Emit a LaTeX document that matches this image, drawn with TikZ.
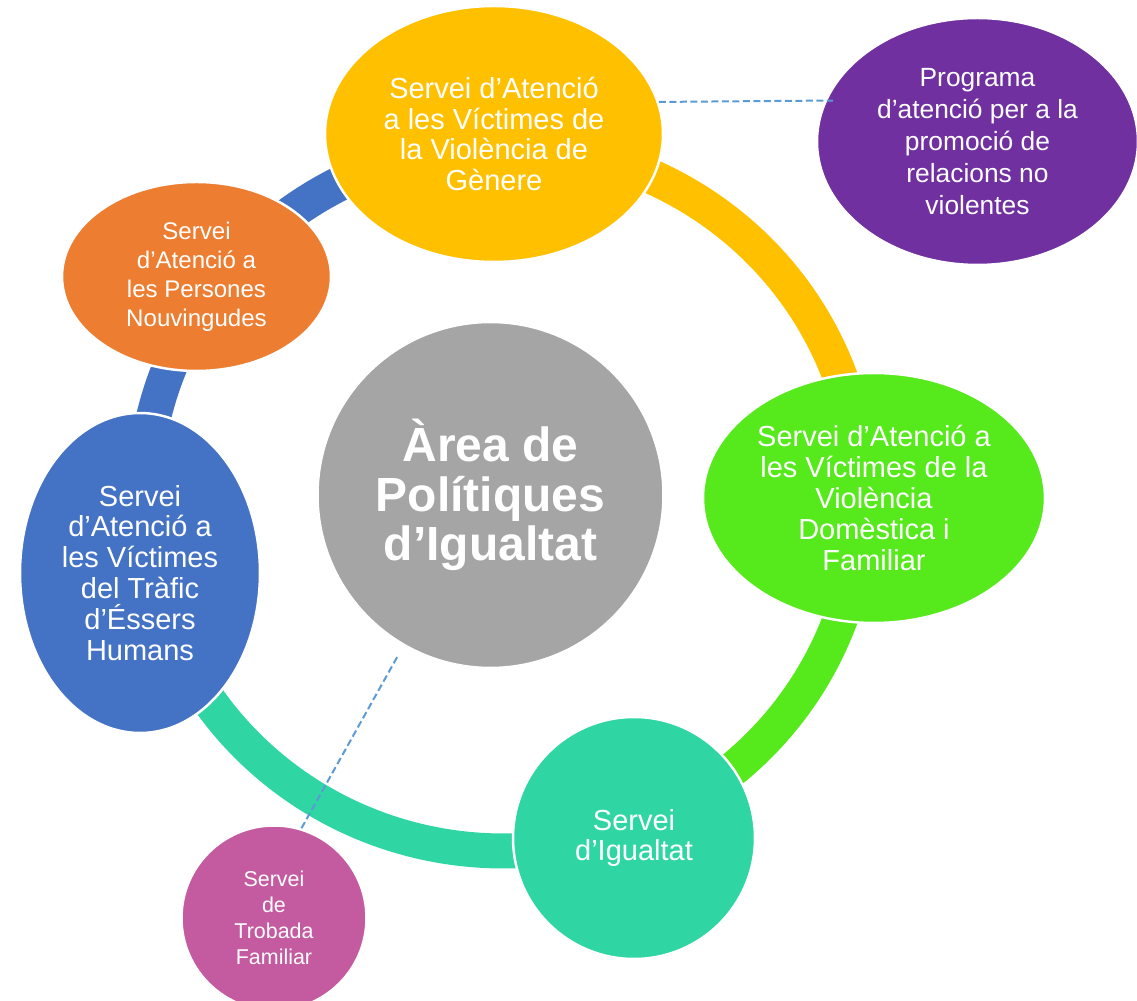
\documentclass[tikz,border=0pt]{standalone}
\usepackage{fontspec}
\setmainfont{Liberation Sans}
\usetikzlibrary{shapes.geometric}
\definecolor{genere}{HTML}{FFC000}
\definecolor{programa}{HTML}{7030A0}
\definecolor{nouvingudes}{HTML}{ED7D31}
\definecolor{area}{HTML}{A5A5A5}
\definecolor{domestica}{HTML}{56E91B}
\definecolor{trafic}{HTML}{4472C4}
\definecolor{igualtat}{HTML}{2FD6A3}
\definecolor{trobada}{HTML}{C45BA0}
\definecolor{dashline}{HTML}{5B9BD5}

\begin{document}
\begin{tikzpicture}[x=0.02cm, y=0.02cm,
     bubble/.style={ellipse, draw=white, line width=1.4pt, text=white, align=center, inner sep=0pt},
     ball/.style={bubble, circle},
     ringarc/.style={line width=0.7cm},
     dashlink/.style={draw=dashline, line width=0.04cm, dash pattern=on 0.14cm off 0.07cm},
     txt/.style={font=\fontsize{16.5}{17.6}\selectfont}]

   \useasboundingbox (0,0) rectangle (1137,1001);

   \coordinate (ring) at (503,503);
   \draw[ringarc, genere] (ring) ++(91.4:359 and 353) arc[start angle=91.4, end angle=0, x radius=359, y radius=353];
   \draw[ringarc, domestica] (ring) ++(0:359 and 353) arc[start angle=0, end angle=-69.2, x radius=359, y radius=353];
   \draw[ringarc, igualtat] (ring) ++(-69.2:359 and 353) arc[start angle=-69.2, end angle=-168.2, x radius=359, y radius=353];
   \draw[ringarc, trafic] (ring) ++(191.8:359 and 353) arc[start angle=191.8, end angle=91.4, x radius=359, y radius=353];

   \node[bubble, txt, fill=genere, minimum width=6.76cm, minimum height=5.12cm] (vg) at (494,867) {Servei d’Atenció\\a les Víctimes de\\la Violència de\\Gènere};
   \node[bubble, fill=programa, minimum width=6.42cm, minimum height=4.94cm, font=\fontsize{15}{18.2}\selectfont] (prog) at (977.5,859.5) {Programa\\d’atenció per a la\\promoció de\\relacions no\\violentes};
   \node[bubble, fill=nouvingudes, minimum width=5.38cm, minimum height=3.78cm, font=\fontsize{13.7}{16.5}\selectfont] (nouv) at (196.5,724.5) {Servei\\d’Atenció a\\les Persones\\Nouvingudes};
   \node[ball, fill=area, minimum size=6.92cm, font=\bfseries\fontsize{27.3}{28}\selectfont] (area) at (490.5,506) {Àrea de\\Polítiques\\d’Igualtat};
   \node[bubble, txt, fill=domestica, minimum width=6.84cm, minimum height=5cm] (vd) at (874,503) {Servei d’Atenció a\\les Víctimes de la\\Violència\\Domèstica i\\Familiar};
   \node[bubble, txt, fill=trafic, minimum width=4.8cm, minimum height=6.4cm] (teh) at (140,428) {Servei\\d’Atenció a\\les Víctimes\\del Tràfic\\d’Éssers\\Humans};
   \node[ball, txt, fill=igualtat, minimum size=4.84cm] (si) at (634,163) {Servei\\d’Igualtat};
   \node[ball, fill=trobada, minimum size=3.7cm, font=\fontsize{12.2}{14.8}\selectfont] (stf) at (274,83) {Servei\\de\\Trobada\\Familiar};

   \draw[dashlink, shorten >=-0.16cm] (vg.11.1) -- (prog.165.4);
   \draw[dashlink, shorten <=0.26cm] (area.240.6) -- (stf.73.8);
\end{tikzpicture}
\end{document}
